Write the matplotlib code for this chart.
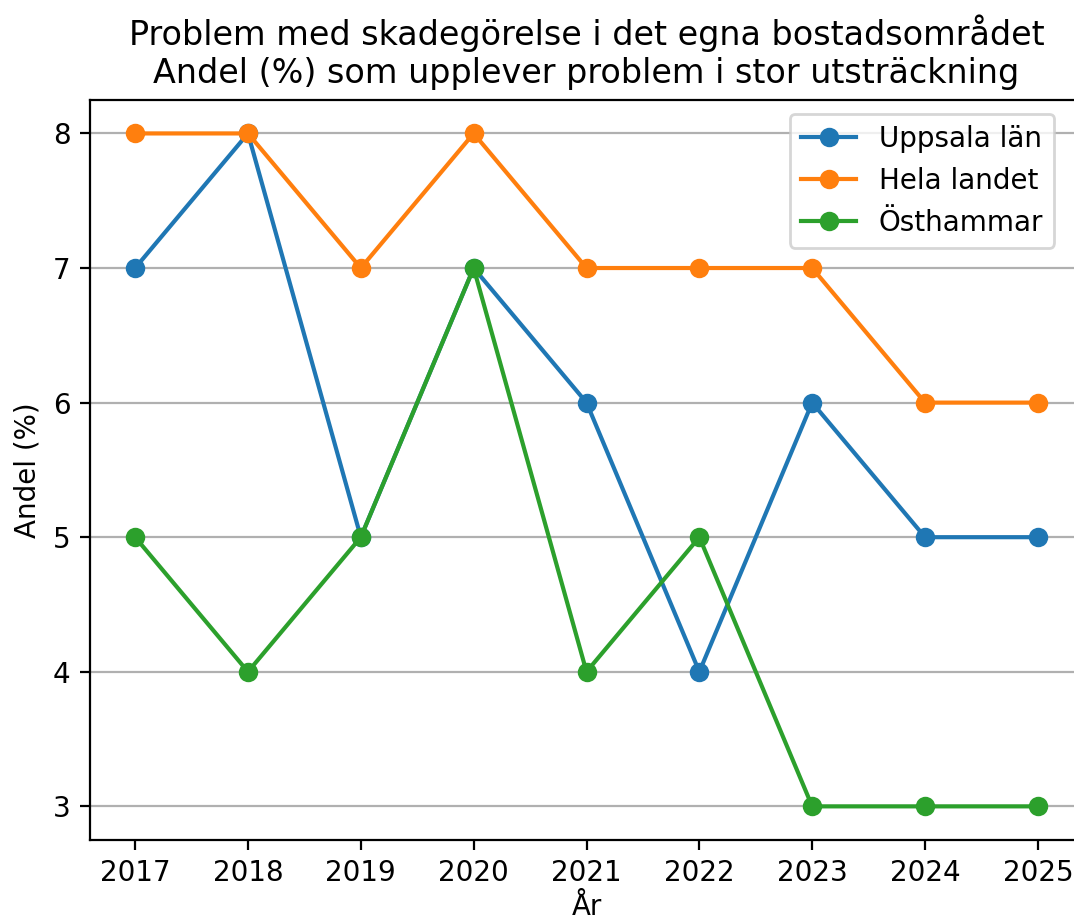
import matplotlib
matplotlib.use("Agg")
import matplotlib.pyplot as plt

years = [2017, 2018, 2019, 2020, 2021, 2022, 2023, 2024, 2025]
uppsala = [7, 8, 5, 7, 6, 4, 6, 5, 5]
hela = [8, 8, 7, 8, 7, 7, 7, 6, 6]
osthammar = [5, 4, 5, 7, 4, 5, 3, 3, 3]

fig = plt.figure(figsize=(5.37, 4.62), dpi=200)
ax = fig.add_axes([0.0838, 0.0909, 0.9246, 0.8011])
ax.plot(years, uppsala, marker='o', label='Uppsala län')
ax.plot(years, hela, marker='o', label='Hela landet')
ax.plot(years, osthammar, marker='o', label='Östhammar')
ax.set_xticks(years)
ax.set_xlabel('År', labelpad=2)
ax.set_ylabel('Andel (%)')
ax.set_title('Problem med skadegörelse i det egna bostadsområdet\nAndel (%) som upplever problem i stor utsträckning', fontsize=12)
ax.grid(axis='y')
ax.legend(loc='upper right', bbox_to_anchor=(0.985, 1.0))
fig.savefig('out.png', dpi=200)
